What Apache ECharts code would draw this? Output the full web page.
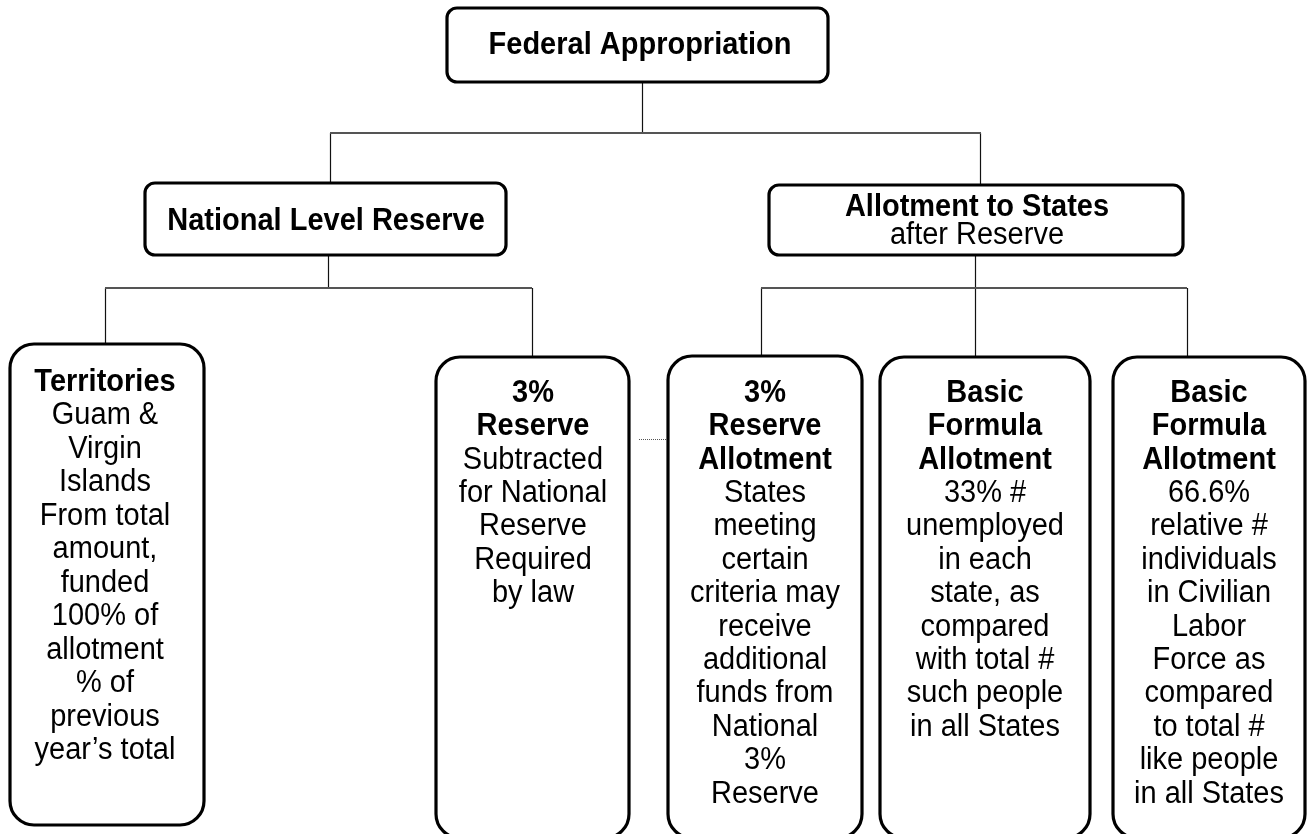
<!DOCTYPE html>
<html>
<head>
<meta charset="utf-8">
<script src="https://cdn.jsdelivr.net/npm/echarts@6/dist/echarts.min.js"></script>
<style>
html,body{margin:0;padding:0;background:#fff;}
#chart{width:1309px;height:834px;}
</style>
</head>
<body>
<div id="chart"></div>
<script>
// ---- diagram content ----
const nodeNames = ['Federal Appropriation','National Level Reserve','Allotment to States','Territories','3% Reserve','3% Reserve Allotment','Basic Formula Allotment 33%','Basic Formula Allotment 66.6%'];
const headLines = [
  ['Federal Appropriation'],
  ['National Level Reserve'],
  ['Allotment to States'],
  ['Territories'],
  ['3%','Reserve'],
  ['3%','Reserve','Allotment'],
  ['Basic','Formula','Allotment'],
  ['Basic','Formula','Allotment']
];
const bodyLines = [
  [],
  [],
  ['after Reserve'],
  ['Guam &','Virgin','Islands','From total','amount,','funded','100% of','allotment','% of','previous','year\u2019s total'],
  ['Subtracted','for National','Reserve','Required','by law'],
  ['States','meeting','certain','criteria may','receive','additional','funds from','National','3%','Reserve'],
  ['33% #','unemployed','in each','state, as','compared','with total #','such people','in all States'],
  ['66.6%','relative #','individuals','in Civilian','Labor','Force as','compared','to total #','like people','in all States']
];
const links = [[0,1],[0,2],[1,3],[1,4],[2,5],[2,6],[2,7]];
const dottedLinks = [[4,5]];

// ---- layout (pixel space of the hidden axes) ----
const boxLayout = [
  {x0:447,y0:8,  x1:828, y1:82,  r:10, tx:640, ty:45,  lh:33.4},
  {x0:145,y0:183,x1:506, y1:255, r:10, tx:326, ty:221, lh:33.4},
  {x0:769,y0:185,x1:1183,y1:255, r:10, tx:977, ty:207, lh:28.5},
  {x0:10, y0:344,x1:204, y1:825, r:24, tx:105, ty:382, lh:33.5},
  {x0:436,y0:357,x1:629, y1:838, r:24, tx:533, ty:393, lh:33.4},
  {x0:668,y0:356,x1:862, y1:838, r:24, tx:765, ty:393, lh:33.4},
  {x0:880,y0:357,x1:1090,y1:838, r:24, tx:985, ty:393, lh:33.4},
  {x0:1113,y0:357,x1:1305,y1:838,r:24, tx:1209,ty:393, lh:33.4}
];
const parentConn = {0:{dropX:642,busY:133,busX0:330,busX1:981},
                    1:{dropX:328,busY:288,busX0:105,busX1:532},
                    2:{dropX:975,busY:288,busX0:761,busX1:1187}};
const entryX = {1:330,2:980,3:105,4:532,5:761,6:975,7:1187};
const dottedY = 439;

const FONT = '"Liberation Sans", Arial, Helvetica, sans-serif';

const chart = echarts.init(document.getElementById('chart'));

function renderBox(params, api){
  const i = api.value(0);
  const L = boxLayout[i];
  const p0 = api.coord([L.x0, L.y0]);
  const p1 = api.coord([L.x1, L.y1]);
  const children = [{
    type:'rect',
    shape:{x:p0[0], y:p0[1], width:p1[0]-p0[0], height:p1[1]-p0[1], r:L.r},
    style:{fill:'#fff', stroke:'#000', lineWidth:3.2}
  }];
  const lines = headLines[i].map(t=>({t, b:true})).concat(bodyLines[i].map(t=>({t, b:false})));
  lines.forEach((ln, k)=>{
    const c = api.coord([L.tx, L.ty + k*L.lh]);
    children.push({
      type:'text', x:c[0], y:c[1], scaleY:1.1,
      style:{text:ln.t, fill:'#000', align:'center', verticalAlign:'middle',
             font:(ln.b?'bold ':'')+'29px '+FONT}
    });
  });
  return {type:'group', children};
}

function renderParent(params, api){
  const i = api.value(0);
  const L = boxLayout[i], P = parentConn[i];
  const a = api.coord([P.dropX, L.y1]);
  const b = api.coord([P.dropX, P.busY]);
  const c0 = api.coord([P.busX0, P.busY]);
  const c1 = api.coord([P.busX1, P.busY]);
  return {type:'group', children:[
    {type:'line', shape:{x1:a[0]+0.5,y1:a[1],x2:b[0]+0.5,y2:b[1]}, style:{stroke:'#111', lineWidth:1.2}},
    {type:'line', shape:{x1:c0[0],y1:c0[1],x2:c1[0],y2:c1[1]}, style:{stroke:'#555', lineWidth:2}}
  ]};
}

function renderLink(params, api){
  const p = api.value(0), ch = api.value(1);
  const P = parentConn[p], C = boxLayout[ch];
  const a = api.coord([entryX[ch], P.busY]);
  const b = api.coord([entryX[ch], C.y0]);
  return {type:'line', shape:{x1:a[0]+0.5,y1:a[1],x2:b[0]+0.5,y2:b[1]}, style:{stroke:'#111', lineWidth:1.2}};
}

function renderDotted(params, api){
  const s = api.value(0), t = api.value(1);
  const a = api.coord([boxLayout[s].x1 + 10, dottedY]);
  const b = api.coord([boxLayout[t].x0 - 2, dottedY]);
  return {type:'line', shape:{x1:a[0],y1:a[1]+0.5,x2:b[0],y2:b[1]+0.5}, style:{stroke:'#555', lineWidth:1, lineDash:[1,1]}};
}

chart.setOption({
  animation:false,
  backgroundColor:'#fff',
  grid:{left:0,right:0,top:0,bottom:0},
  xAxis:{type:'value', min:0, max:1309, show:false},
  yAxis:{type:'value', min:0, max:834, inverse:true, show:false},
  series:[
    {type:'custom', name:'links', renderItem:renderLink, data:links, silent:true, z:1},
    {type:'custom', name:'buses', renderItem:renderParent, data:Object.keys(parentConn).map(k=>[+k]), silent:true, z:1},
    {type:'custom', name:'dotted', renderItem:renderDotted, data:dottedLinks, silent:true, z:1},
    {type:'custom', name:'nodes', renderItem:renderBox, data:nodeNames.map((n,i)=>[i, n]), silent:true, z:2}
  ]
});
</script>
</body>
</html>
